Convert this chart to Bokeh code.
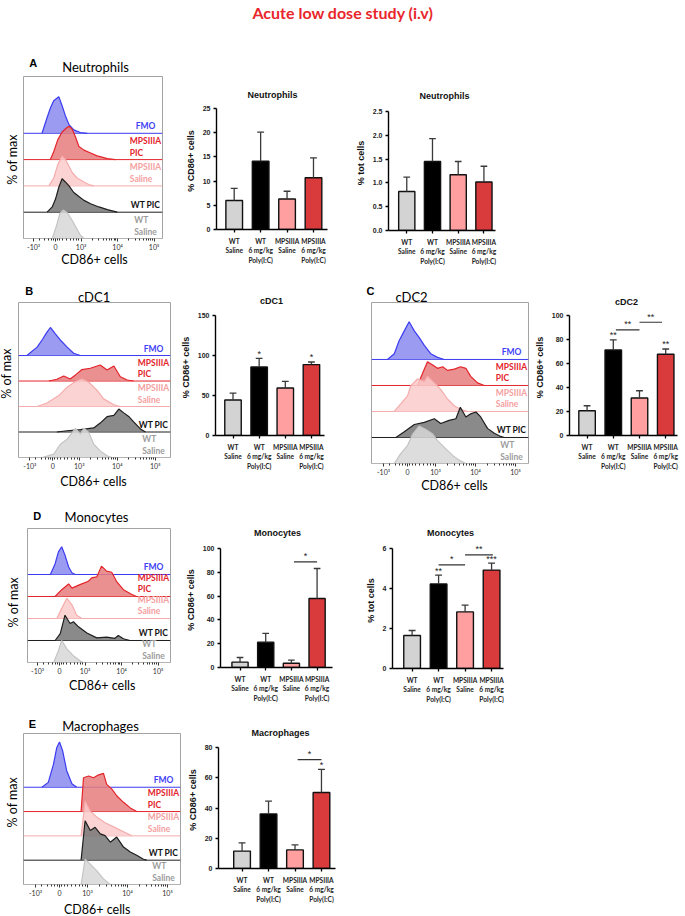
import math
from bokeh.plotting import figure
from bokeh.models import (Range1d, Label, LabelSet, FixedTicker, ColumnDataSource,
                          Span, NumeralTickFormatter)
from bokeh.core.properties import value
from bokeh.embed import file_html
from bokeh.resources import INLINE

FONT = "Lato"
ARIAL = "Liberation Sans"
PAGE_W, PAGE_H = 685, 916

# ---------------------------------------------------------------- bar data
groups = ["WT\nSaline", "WT\n6 mg/kg\nPoly(I:C)", "MPSIIIA\nSaline", "MPSIIIA\n6 mg/kg\nPoly(I:C)"]
bar_colors = ["#d3d3d3", "#000000", "#ff9f9f", "#d93b3d"]

neut_cd86_mean = [6.0, 14.1, 6.3, 10.7]
neut_cd86_sem = [2.5, 6.0, 1.6, 4.1]
neut_tot_mean = [0.82, 1.45, 1.17, 1.02]
neut_tot_sem = [0.30, 0.48, 0.28, 0.33]
cdc1_cd86_mean = [44.3, 85.7, 59.3, 88.6]
cdc1_cd86_sem = [8.7, 10.8, 8.4, 3.3]
cdc2_cd86_mean = [20.6, 71.3, 31.2, 67.7]
cdc2_cd86_sem = [4.2, 8.4, 6.1, 4.4]
mono_cd86_mean = [4.5, 21.3, 3.6, 58.0]
mono_cd86_sem = [3.9, 7.3, 2.6, 25.2]
mono_tot_mean = [1.65, 4.23, 2.83, 4.92]
mono_tot_sem = [0.25, 0.44, 0.34, 0.35]
macro_cd86_mean = [11.5, 36.1, 12.3, 50.2]
macro_cd86_sem = [5.5, 8.4, 3.3, 15.4]

# significance: (group, stars) above a bar; (from, to, level, stars) for brackets
cdc1_stars = [(1, "*"), (3, "*")]
cdc2_stars = [(1, "**"), (3, "**")]
cdc2_brackets = [(1.1, 2.0, 88.0, "**"), (2.0, 2.86, 94.4, "**")]
mono_cd86_brackets = [(2.1, 3.0, 88.8, "*")]
mono_tot_stars = [(1, "**"), (3, "***")]
mono_tot_brackets = [(1.0, 2.0, 5.18, "*"), (2.0, 3.05, 5.68, "**")]
macro_stars = [(3, "*")]
macro_brackets = [(2.1, 3.0, 72.0, "*")]

# ---------------------------------------------------------- histogram data
# x: biexponential display position (0 -> 0, 0.7 -> 10^3, 1.7 -> 10^4, 2.7 -> 10^5)
# y: height above the track baseline, in track units
tracks = ["FMO", "MPSIIIA PIC", "MPSIIIA Saline", "WT PIC", "WT Saline"]
track_labels = ["FMO", "MPSIIIA\nPIC", "MPSIIIA\nSaline", "WT PIC", "WT\nSaline"]
track_line = ["#3b3bf0", "#e3242b", "#f6acac", "#1e1e1e", "#c4c4c4"]
track_fill = ["#8a8af0", "#e67c7c", "#fbcbcb", "#767676", "#d7d7d7"]
track_text = ["#3f3ff5", "#e3242b", "#f5a0a0", "#111111", "#9c9c9c"]

cd86_ticks = [-0.6, 0, 0.7, 1.7, 2.7]
cd86_tick_labels = ["-10³", "0", "10³", "10⁴", "10⁵"]

neut_hist = {
    "FMO": ([-0.37, -0.23, -0.14, -0.05, 0.09, 0.18, 0.27, 0.37, 0.5, 0.68, 0.87],
            [0, 0.6, 0.96, 1.24, 1.39, 1.05, 0.67, 0.33, 0.13, 0.03, 0]),
    "MPSIIIA PIC": ([-0.14, -0.05, 0.06, 0.18, 0.3, 0.37, 0.46, 0.55, 0.64, 0.78, 0.96, 1.14, 1.42, 1.64],
                    [0, 0.3, 0.75, 1.05, 1.2, 1.27, 1.15, 0.85, 0.5, 0.36, 0.25, 0.14, 0.04, 0]),
    "MPSIIIA Saline": ([-0.18, -0.05, 0.06, 0.18, 0.27, 0.37, 0.46, 0.59, 0.78, 0.91, 1.05],
                       [0, 0.3, 0.8, 1.13, 1.0, 0.75, 0.5, 0.3, 0.15, 0.05, 0]),
    "WT PIC": ([-0.23, -0.09, 0, 0.09, 0.18, 0.27, 0.37, 0.5, 0.64, 0.78, 0.96, 1.19, 1.42, 1.69],
               [0, 0.2, 0.5, 0.95, 1.27, 1.15, 1.0, 0.75, 0.6, 0.45, 0.32, 0.2, 0.1, 0]),
    "WT Saline": ([-0.09, 0.03, 0.12, 0.21, 0.32, 0.43, 0.55, 0.67, 0.78],
                  [0, 0.5, 0.95, 1.08, 0.98, 0.75, 0.45, 0.15, 0]),
}

cdc1_hist = {
    "FMO": ([-0.68, -0.41, -0.28, -0.15, -0.06, 0.07, 0.2, 0.38, 0.55, 0.73],
            [0, 0.33, 0.61, 0.92, 1.1, 0.85, 0.61, 0.33, 0.09, 0]),
    "MPSIIIA PIC": ([-0.1, 0.11, 0.29, 0.46, 0.6, 0.77, 0.99, 1.25, 1.43, 1.61, 1.78, 1.96, 2.13],
                    [0, 0.07, 0.2, 0.08, 0.24, 0.45, 0.5, 0.63, 0.43, 0.59, 0.17, 0.04, 0]),
    "MPSIIIA Saline": ([-0.41, -0.15, 0.16, 0.38, 0.6, 0.77, 0.95, 1.17, 1.34, 1.61, 1.78],
                       [0, 0.14, 0.43, 0.76, 0.98, 1.08, 0.95, 0.63, 0.3, 0.07, 0]),
    "WT PIC": ([0.11, 0.38, 0.73, 1.08, 1.25, 1.43, 1.61, 1.74, 1.87, 2.0, 2.13, 2.31, 2.44],
               [0, 0.05, 0.09, 0.16, 0.35, 0.6, 0.65, 0.9, 0.75, 0.61, 0.4, 0.12, 0]),
    "WT Saline": ([-0.28, 0.03, 0.2, 0.38, 0.6, 0.73, 0.82, 0.95, 1.08, 1.25, 1.43, 1.56],
                  [0, 0.13, 0.52, 0.72, 1.14, 0.92, 1.15, 0.98, 0.52, 0.26, 0.07, 0]),
}

cdc2_hist = {
    "FMO": ([-0.5, -0.33, -0.21, -0.08, 0.04, 0.17, 0.29, 0.42, 0.58, 0.75, 0.92],
            [0, 0.22, 0.72, 1.1, 1.45, 1.1, 0.85, 0.54, 0.22, 0.08, 0]),
    "MPSIIIA PIC": ([0.25, 0.38, 0.5, 0.63, 0.75, 0.88, 1.0, 1.17, 1.33, 1.46, 1.58, 1.75, 1.92],
                    [0, 0.48, 0.91, 0.79, 0.66, 0.72, 0.58, 0.63, 0.72, 0.66, 0.35, 0.1, 0]),
    "MPSIIIA Saline": ([-0.33, -0.17, 0, 0.08, 0.25, 0.42, 0.5, 0.67, 0.83, 1.0, 1.17, 1.33, 1.5],
                       [0, 0.29, 0.6, 0.98, 1.25, 1.16, 1.35, 1.1, 0.85, 0.48, 0.22, 0.08, 0]),
    "WT PIC": ([-0.29, -0.08, 0.17, 0.42, 0.67, 0.83, 1.04, 1.21, 1.32, 1.46, 1.58, 1.71, 1.83, 2.0, 2.17, 2.33, 2.42],
               [0, 0.22, 0.5, 0.58, 0.72, 0.54, 0.66, 0.72, 1.16, 0.79, 0.91, 0.98, 0.79, 0.35, 0.16, 0.04, 0]),
    "WT Saline": ([-0.33, -0.17, 0, 0.13, 0.29, 0.46, 0.63, 0.75, 0.96, 1.13, 1.29, 1.46],
                  [0, 0.38, 0.69, 1.13, 1.44, 1.31, 1.13, 0.88, 0.56, 0.31, 0.13, 0]),
}

mono_hist = {
    "FMO": ([-0.25, -0.12, -0.03, 0.06, 0.15, 0.25, 0.34, 0.43],
            [0, 0.49, 1.03, 1.26, 0.88, 0.34, 0.08, 0]),
    "MPSIIIA PIC": ([-0.12, 0.06, 0.25, 0.34, 0.56, 0.79, 0.88, 1.02, 1.15, 1.29, 1.43, 1.56, 1.75, 1.97, 2.11],
                    [0, 0.31, 0.57, 0.38, 0.54, 0.69, 0.85, 0.89, 1.38, 1.15, 1.1, 0.69, 0.31, 0.1, 0]),
    "MPSIIIA Saline": ([-0.07, 0.06, 0.2, 0.34, 0.47, 0.61],
                       [0, 0.46, 0.92, 0.62, 0.15, 0]),
    "WT PIC": ([-0.12, 0.02, 0.15, 0.29, 0.38, 0.52, 0.75, 1.02, 1.29, 1.52, 1.61, 1.75, 1.93],
               [0, 0.31, 1.15, 0.77, 0.85, 0.62, 0.34, 0.12, 0.15, 0.1, 0.23, 0.08, 0]),
    "WT Saline": ([-0.16, -0.03, 0.06, 0.2, 0.38, 0.56, 0.65],
                  [0, 0.54, 1.0, 0.62, 0.31, 0.08, 0]),
}

macro_hist = {
    "FMO": ([-0.44, -0.28, -0.15, -0.07, 0, 0.08, 0.18, 0.31, 0.43],
            [0, 0.2, 0.95, 1.62, 1.86, 1.49, 0.68, 0.14, 0]),
    "MPSIIIA PIC": ([0.54, 0.6, 0.73, 0.85, 0.98, 1.1, 1.18, 1.31, 1.43, 1.6, 1.77, 1.93],
                    [0, 1.39, 1.46, 1.39, 1.51, 1.57, 1.12, 0.92, 0.65, 0.38, 0.15, 0]),
    "MPSIIIA Saline": ([0.54, 0.64, 0.77, 0.93, 1.14, 1.39, 1.64, 1.81],
                       [0, 1.42, 1.01, 0.78, 0.54, 0.34, 0.14, 0]),
    "WT PIC": ([0.54, 0.64, 0.77, 0.89, 1.02, 1.14, 1.27, 1.43, 1.6, 1.77, 1.93, 2.1, 2.18],
               [0, 1.62, 1.22, 1.35, 1.08, 1.01, 0.74, 0.95, 0.54, 0.34, 0.2, 0.04, 0]),
    "WT Saline": ([0.54, 0.64, 0.77, 0.93, 1.1, 1.27],
                  [0, 1.04, 0.84, 0.57, 0.23, 0]),
}

# minor ticks of the biexponential axis
cd86_minor = ([-0.45, -0.3, -0.2, -0.12, -0.06, 0.06, 0.12, 0.2, 0.3, 0.4, 0.5, 0.58, 0.64]
              + [0.7 + math.log10(k) for k in range(2, 10)]
              + [1.7 + math.log10(k) for k in range(2, 10)])


# ---------------------------------------------------------------- helpers
def place(box, borders, xr, yr, **kw):
    """Figure absolutely positioned so that its frame covers page box (l, t, r, b)."""
    fl, ft, fr, fb = box
    bl, br, bt, bb = borders
    w = round(fr - fl) + bl + br
    h = round(fb - ft) + bt + bb
    ox, oy = round(fl) - bl, round(ft) - bt
    p = figure(width=w, height=h, x_range=Range1d(*xr), y_range=Range1d(*yr),
               output_backend="svg", toolbar_location=None,
               min_border_left=bl, min_border_right=br,
               min_border_top=bt, min_border_bottom=bb,
               styles={"position": "absolute", "left": f"{ox}px", "top": f"{oy}px"}, **kw)
    p.grid.visible = False
    p.border_fill_color = None
    p.background_fill_color = None
    return p


def hist_panel(box, xr, ytop, curves):
    p = place(box, (2, 2, 2, 20), xr, (0, ytop), y_axis_location=None)
    p.outline_line_color = "#a3a3a3"
    p.outline_line_width = 1
    xa = p.xaxis[0]
    xa.ticker = FixedTicker(ticks=cd86_ticks, minor_ticks=cd86_minor)
    xa.major_label_overrides = dict(zip(cd86_ticks, cd86_tick_labels))
    xa.axis_line_color = None
    xa.major_tick_in = 0
    xa.major_tick_out = 3
    xa.minor_tick_in = 0
    xa.minor_tick_out = 2
    xa.major_tick_line_color = "#333333"
    xa.minor_tick_line_color = "#333333"
    xa.major_label_standoff = 1
    xa.major_label_text_font = FONT
    xa.major_label_text_font_size = "7px"
    xa.major_label_text_color = "#333333"

    n = len(tracks)
    for k, name in enumerate(tracks):
        base = n - 1 - k
        xs, hs = curves[name]
        p.add_layout(Span(location=base, dimension="width", line_color=track_line[k],
                          line_width=1, level="underlay"))
        p.varea(x=xs, y1=[base] * len(xs), y2=[base + h for h in hs],
                fill_color=track_fill[k], fill_alpha=0.85)
        p.line(x=xs, y=[base + h for h in hs], line_color=track_line[k], line_width=1.2)

    src = ColumnDataSource(dict(x=[xr[1]] * n, y=[n - 1 - k for k in range(n)],
                                t=track_labels, c=track_text))
    p.add_layout(LabelSet(x="x", y="y", text="t", text_color="c", source=src,
                          x_offset=-17, y_offset=2, text_align="center",
                          text_baseline="bottom", text_font=value(FONT),
                          text_font_size="8.5px", text_font_style="bold",
                          text_line_height=1.15))
    return p


HEADROOM = 16  # px of frame above the top tick, room for significance marks


def bar_panel(box, xr, ymax, yticks, means, sems, ylabel, stars=(), brackets=(),
              tick_format=None, right_border=14):
    fl, ft, fr, fb = box
    per_px = ymax / (fb - ft)
    p = place((fl, ft - HEADROOM, fr, fb), (42, right_border, 4, 42), xr,
              (0, ymax + HEADROOM * per_px))
    p.outline_line_color = None
    xs = list(range(len(groups)))
    err = [m + s for m, s in zip(means, sems)]
    src = ColumnDataSource(dict(x=xs, top=means, err=err, color=bar_colors,
                                c0=[x - 0.13 for x in xs], c1=[x + 0.13 for x in xs]))
    p.vbar(x="x", top="top", width=0.63, fill_color="color", line_color="#111111",
           line_width=1.4, source=src)
    p.segment(x0="x", y0="top", x1="x", y1="err", line_color="#3a3a3a", line_width=1.3, source=src)
    p.segment(x0="c0", y0="err", x1="c1", y1="err", line_color="#3a3a3a", line_width=1.3, source=src)

    xa = p.xaxis[0]
    xa.ticker = FixedTicker(ticks=xs)
    xa.major_label_overrides = {x: g for x, g in zip(xs, groups)}
    xa.major_label_text_font = FONT
    xa.major_label_text_font_size = "6.6px"
    xa.major_label_text_font_style = "bold"
    xa.major_label_text_color = "#222222"
    xa.major_label_standoff = 4
    xa.major_tick_in = 0
    xa.major_tick_out = 3
    xa.minor_tick_out = 0
    xa.axis_line_width = 1.4
    xa.major_tick_line_width = 1.3

    ya = p.yaxis[0]
    ya.ticker = FixedTicker(ticks=yticks)
    ya.bounds = (0, ymax)
    if tick_format:
        ya.formatter = NumeralTickFormatter(format=tick_format)
    ya.major_label_text_font = ARIAL
    ya.major_label_text_font_size = "7px"
    ya.major_label_text_font_style = "bold"
    ya.major_label_text_color = "#222222"
    ya.major_label_standoff = 3
    ya.major_tick_in = 0
    ya.major_tick_out = 3
    ya.minor_tick_out = 0
    ya.axis_line_width = 1.4
    ya.major_tick_line_width = 1.3
    ya.axis_label = ylabel
    ya.axis_label_text_font = ARIAL
    ya.axis_label_text_font_size = "9px"
    ya.axis_label_text_font_style = "bold"
    ya.axis_label_text_color = "#111111"
    ya.axis_label_standoff = 4

    if stars:
        s_src = ColumnDataSource(dict(x=[i for i, _ in stars], y=[err[i] for i, _ in stars],
                                      t=[t for _, t in stars]))
        p.add_layout(LabelSet(x="x", y="y", text="t", source=s_src, y_offset=1.5,
                              text_align="center", text_baseline="alphabetic",
                              text_font=value(ARIAL), text_font_size="9px", text_color="#222222"))
    if brackets:
        b_src = ColumnDataSource(dict(x0=[b[0] for b in brackets], x1=[b[1] for b in brackets],
                                      xm=[(b[0] + b[1]) / 2 for b in brackets],
                                      y=[b[2] for b in brackets], t=[b[3] for b in brackets]))
        p.segment(x0="x0", y0="y", x1="x1", y1="y", line_color="#333333", line_width=1.1, source=b_src)
        p.add_layout(LabelSet(x="xm", y="y", text="t", source=b_src, y_offset=2.5,
                              text_align="center", text_baseline="alphabetic",
                              text_font=value(ARIAL), text_font_size="9px", text_color="#222222"))
    return p


# ------------------------------------------------------------- histograms
hA = hist_panel((23, 76, 162, 238), (-0.877, 2.93), 6.16, neut_hist)
hB = hist_panel((18, 302, 170, 457), (-0.9, 3.1), 6.08, cdc1_hist)
hC = hist_panel((371, 302, 528, 463), (-0.9, 3.025), 6.19, cdc2_hist)
hD = hist_panel((27, 528, 170, 662), (-0.877, 3.04), 6.09, mono_hist)
hE = hist_panel((23, 733, 180, 884), (-0.9, 3.025), 6.21, macro_hist)

# -------------------------------------------------------------- bar charts
bA1 = bar_panel((216, 108, 327, 229), (-0.67, 3.53), 25, [0, 5, 10, 15, 20, 25],
                neut_cd86_mean, neut_cd86_sem, "% CD86+ cells")
bA2 = bar_panel((388, 111, 495, 230), (-0.71, 3.45), 2.5, [0, 0.5, 1.0, 1.5, 2.0, 2.5],
                neut_tot_mean, neut_tot_sem, "% tot cells", tick_format="0.0")
bB = bar_panel((215, 315, 324, 435), (-0.67, 3.5), 150, [0, 50, 100, 150],
               cdc1_cd86_mean, cdc1_cd86_sem, "% CD86+ cells", stars=cdc1_stars)
bC = bar_panel((569, 315, 677, 435), (-0.67, 3.45), 100, [0, 20, 40, 60, 80, 100],
               cdc2_cd86_mean, cdc2_cd86_sem, "% CD86+ cells", stars=cdc2_stars,
               brackets=cdc2_brackets, right_border=8)
bD1 = bar_panel((220, 548, 332, 667), (-0.76, 3.6), 100, [0, 20, 40, 60, 80, 100],
                mono_cd86_mean, mono_cd86_sem, "% CD86+ cells", brackets=mono_cd86_brackets)
bD2 = bar_panel((392, 548, 503, 668), (-0.74, 3.45), 6, [0, 2, 4, 6],
                mono_tot_mean, mono_tot_sem, "% tot cells", stars=mono_tot_stars,
                brackets=mono_tot_brackets)
bE = bar_panel((218, 747, 335, 868), (-0.89, 3.53), 80, [0, 20, 40, 60, 80],
               macro_cd86_mean, macro_cd86_sem, "% CD86+ cells", stars=macro_stars,
               brackets=macro_brackets)

# ------------------------------------------- page texts (page pixel positions)
page_texts = [
    # text, x, y, size, font, bold, color, rotated
    ("Acute low dose study (i.v)", 342.5, 12, "16px", FONT, True, "#e8262b", False),
    ("A", 32.7, 62.7, "11px", ARIAL, True, "#000000", False),
    ("B", 28.6, 290.7, "11px", ARIAL, True, "#000000", False),
    ("C", 370, 290.7, "11px", ARIAL, True, "#000000", False),
    ("D", 36.7, 515, "11px", ARIAL, True, "#000000", False),
    ("E", 32, 723, "11px", ARIAL, True, "#000000", False),
    ("Neutrophils", 95, 66, "13px", FONT, False, "#000000", False),
    ("cDC1", 93.6, 296, "13px", FONT, False, "#000000", False),
    ("cDC2", 411, 296, "13px", FONT, False, "#000000", False),
    ("Monocytes", 96, 516, "13px", FONT, False, "#000000", False),
    ("Macrophages", 100, 725, "13px", FONT, False, "#000000", False),
    ("% of max", 12, 159, "12.5px", FONT, False, "#000000", True),
    ("% of max", 6, 373, "12.5px", FONT, False, "#000000", True),
    ("% of max", 13.3, 601.7, "12.5px", FONT, False, "#000000", True),
    ("% of max", 11.7, 801.7, "12.5px", FONT, False, "#000000", True),
    ("CD86+ cells", 94, 259, "12.5px", FONT, False, "#000000", False),
    ("CD86+ cells", 93, 480.7, "12.5px", FONT, False, "#000000", False),
    ("CD86+ cells", 454, 485, "12.5px", FONT, False, "#000000", False),
    ("CD86+ cells", 101.7, 685, "12.5px", FONT, False, "#000000", False),
    ("CD86+ cells", 96.7, 909, "12.5px", FONT, False, "#000000", False),
    ("Neutrophils", 272, 94, "9px", ARIAL, True, "#111111", False),
    ("Neutrophils", 444, 95, "9px", ARIAL, True, "#111111", False),
    ("cDC1", 271, 300.7, "9px", ARIAL, True, "#111111", False),
    ("cDC2", 626, 301, "9px", ARIAL, True, "#111111", False),
    ("Monocytes", 277, 532, "9px", ARIAL, True, "#111111", False),
    ("Monocytes", 450, 532, "9px", ARIAL, True, "#111111", False),
    ("Macrophages", 280, 732, "9px", ARIAL, True, "#111111", False),
]

overlay = figure(width=PAGE_W, height=PAGE_H, x_range=Range1d(0, PAGE_W), y_range=Range1d(0, PAGE_H),
                 output_backend="svg", toolbar_location=None, x_axis_location=None,
                 y_axis_location=None, min_border_left=0, min_border_right=0,
                 min_border_top=0, min_border_bottom=0,
                 styles={"position": "absolute", "left": "0px", "top": "0px"})
overlay.grid.visible = False
overlay.outline_line_color = None
overlay.border_fill_color = None
overlay.background_fill_color = None
for text, x, y, size, font, bold, color, rotated in page_texts:
    overlay.add_layout(Label(x=x, y=PAGE_H - y, x_units="screen", y_units="screen",
                             text=text, text_font=font, text_font_size=size,
                             text_font_style="bold" if bold else "normal", text_color=color,
                             text_align="center", text_baseline="middle",
                             angle=math.pi / 2 if rotated else 0.0))

roots = [hA, bA1, bA2, hB, bB, hC, bC, hD, bD1, bD2, hE, bE, overlay]
open("out.html", "w").write(file_html(roots, INLINE))
